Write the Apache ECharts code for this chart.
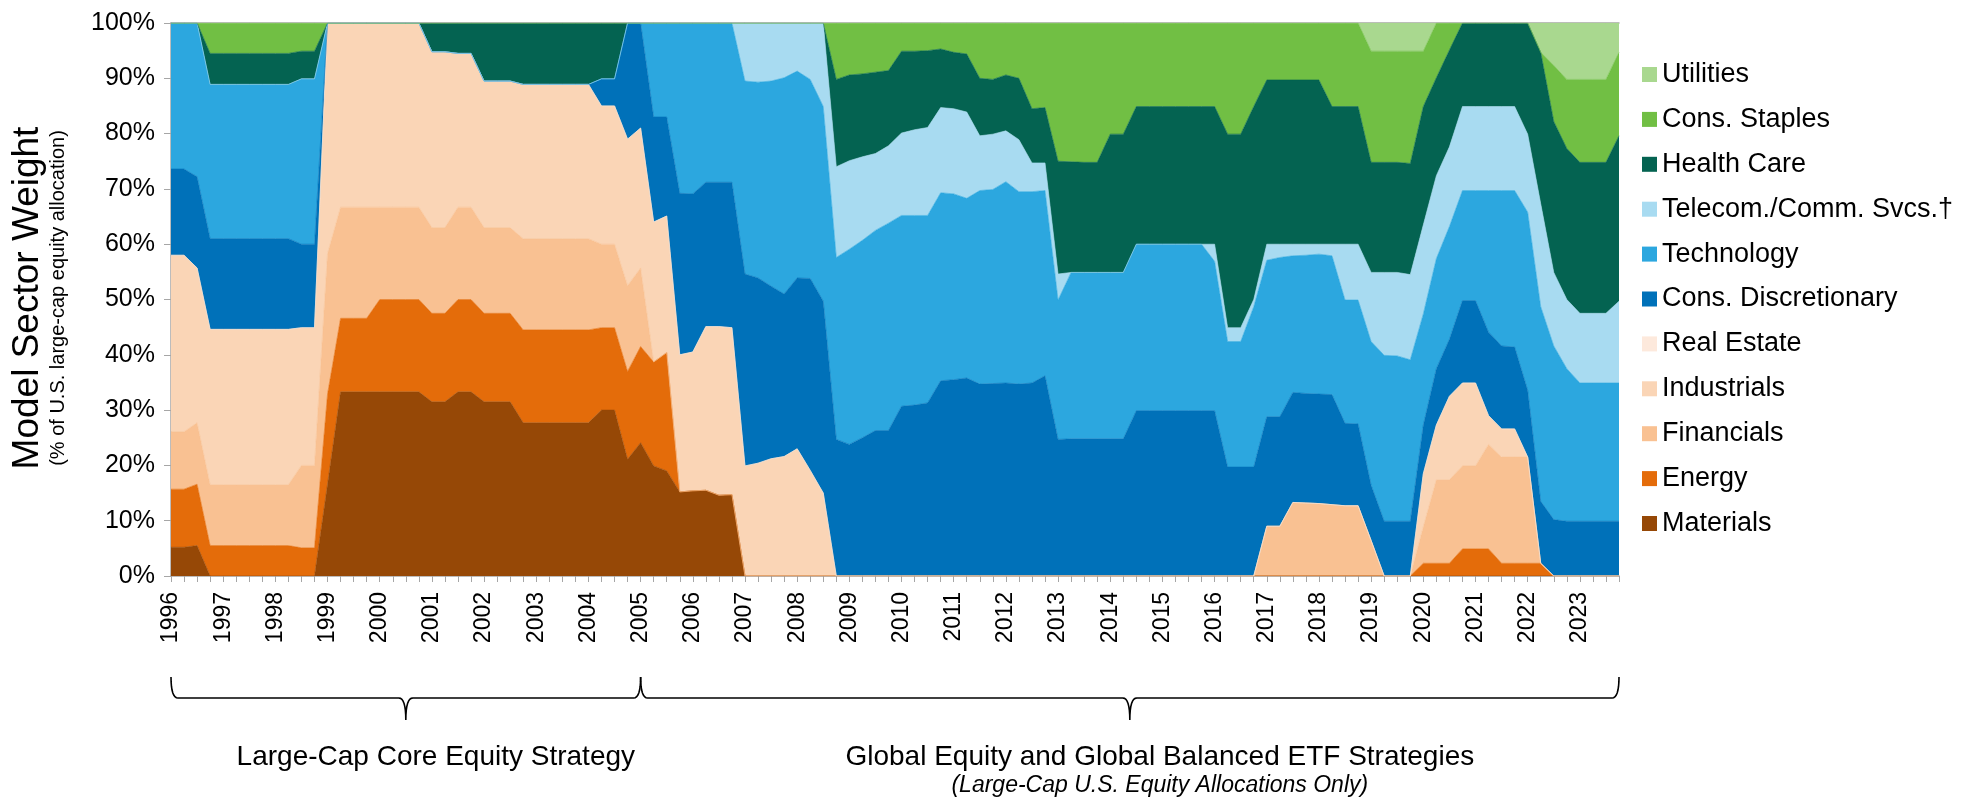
<!DOCTYPE html>
<html>
<head>
<meta charset="utf-8">
<script src="https://cdn.jsdelivr.net/npm/echarts@6/dist/echarts.min.js"></script>
<style>
  html, body { margin: 0; padding: 0; background: #fff; }
  #chart { width: 1986px; height: 799px; }
</style>
</head>
<body>
<div id="chart"></div>
<script>
// quarterly model weights, 1996 Q1 .. 2023 Q4 (each line = 4 years x 4 quarters)
let years = [];
for (let y = 1996; y <= 2023; y++) years.push(String(y));
let quarters = ['Q1', 'Q2', 'Q3', 'Q4'];
let categories = [];
years.forEach(function (y) { quarters.forEach(function (q) { categories.push(y + ' ' + q); }); });

let yTicks = [0, 10, 20, 30, 40, 50, 60, 70, 80, 90, 100];

let materials = [
    5.2, 5.2, 5.5, 0, 0, 0, 0, 0, 0, 0, 0, 0, 16.6, 33.3, 33.3, 33.3,
    33.3, 33.3, 33.3, 33.3, 31.5, 31.5, 33.3, 33.3, 31.5, 31.5, 31.5, 27.7, 27.7, 27.7, 27.7, 27.7,
    27.7, 30.0, 30.0, 21.1, 24.1, 19.9, 19.0, 15.2, 15.4, 15.5, 14.6, 14.7, 0, 0, 0, 0,
    0, 0, 0, 0, 0, 0, 0, 0, 0, 0, 0, 0, 0, 0, 0, 0,
    0, 0, 0, 0, 0, 0, 0, 0, 0, 0, 0, 0, 0, 0, 0, 0,
    0, 0, 0, 0, 0, 0, 0, 0, 0, 0, 0, 0, 0, 0, 0, 0,
    0, 0, 0, 0, 0, 0, 0, 0, 0, 0, 0, 0, 0, 0, 0, 0
];
let energy = [
    10.5, 10.5, 11.1, 5.5, 5.5, 5.5, 5.5, 5.5, 5.5, 5.5, 5.1, 5.1, 16.3, 13.3, 13.3, 13.3,
    16.7, 16.7, 16.7, 16.7, 16.0, 16.0, 16.7, 16.7, 16.0, 16.0, 16.0, 16.8, 16.8, 16.8, 16.8, 16.8,
    16.8, 14.9, 14.9, 15.9, 17.4, 18.8, 21.4, 0, 0, 0, 0, 0, 0, 0, 0, 0,
    0, 0, 0, 0, 0, 0, 0, 0, 0, 0, 0, 0, 0, 0, 0, 0,
    0, 0, 0, 0, 0, 0, 0, 0, 0, 0, 0, 0, 0, 0, 0, 0,
    0, 0, 0, 0, 0, 0, 0, 0, 0, 0, 0, 0, 0, 0, 0, 0,
    2.3, 2.3, 2.3, 4.9, 4.9, 4.9, 2.3, 2.3, 2.3, 2.3, 0, 0, 0, 0, 0, 0
];
let financials = [
    10.4, 10.4, 11.1, 11.0, 11.0, 11.0, 11.0, 11.0, 11.0, 11.0, 14.9, 14.9, 25.4, 20.1, 20.1, 20.1,
    16.7, 16.7, 16.7, 16.7, 15.5, 15.5, 16.7, 16.7, 15.5, 15.5, 15.5, 16.5, 16.5, 16.5, 16.5, 16.5,
    16.5, 15.1, 15.1, 15.5, 14.2, 0, 0, 0, 0, 0, 0, 0, 0, 0, 0, 0,
    0, 0, 0, 0, 0, 0, 0, 0, 0, 0, 0, 0, 0, 0, 0, 0,
    0, 0, 0, 0, 0, 0, 0, 0, 0, 0, 0, 0, 0, 0, 0, 0,
    0, 0, 0, 0, 9.0, 9.0, 13.3, 13.2, 13.1, 12.9, 12.7, 12.7, 6.4, 0, 0, 0,
    6.6, 15.1, 15.1, 15.0, 15.0, 18.9, 19.2, 19.2, 19.2, 0, 0, 0, 0, 0, 0, 0
];
let industrials = [
    31.9, 31.9, 28.0, 28.1, 28.1, 28.1, 28.1, 28.1, 28.1, 28.1, 24.9, 24.9, 41.7, 33.3, 33.3, 33.3,
    33.3, 33.3, 33.3, 33.3, 31.8, 31.8, 27.8, 27.8, 26.5, 26.5, 26.5, 27.9, 27.9, 27.9, 27.9, 27.9,
    27.9, 25.0, 25.0, 26.5, 25.3, 25.3, 24.7, 24.8, 25.1, 29.6, 30.5, 30.2, 19.9, 20.4, 21.2, 21.6,
    23.0, 19.1, 15.0, 0, 0, 0, 0, 0, 0, 0, 0, 0, 0, 0, 0, 0,
    0, 0, 0, 0, 0, 0, 0, 0, 0, 0, 0, 0, 0, 0, 0, 0,
    0, 0, 0, 0, 0, 0, 0, 0, 0, 0, 0, 0, 0, 0, 0, 0,
    9.6, 9.9, 15.1, 15.0, 15.0, 5.2, 5.1, 5.1, 0, 0, 0, 0, 0, 0, 0, 0
];
let realEstate = categories.map(function () { return 0; });
let consDisc = [
    15.6, 15.6, 16.5, 16.4, 16.4, 16.4, 16.4, 16.4, 16.4, 16.4, 15.1, 15.1, 0, 0, 0, 0,
    0, 0, 0, 0, 0, 0, 0, 0, 0, 0, 0, 0, 0, 0, 0, 0,
    0, 4.9, 4.9, 21.0, 19.0, 19.0, 17.9, 29.2, 28.6, 26.1, 26.1, 26.3, 34.7, 33.5, 31.2, 29.4,
    30.9, 34.7, 34.7, 24.7, 23.8, 25.0, 26.3, 26.3, 30.7, 30.9, 31.3, 35.3, 35.5, 35.8, 34.7, 34.8,
    34.9, 34.7, 34.9, 36.2, 24.7, 24.8, 24.8, 24.8, 24.8, 24.8, 29.9, 29.9, 29.9, 29.9, 29.9, 29.9,
    29.9, 19.7, 19.7, 19.7, 19.8, 19.8, 19.9, 19.8, 19.8, 19.9, 14.9, 14.8, 10.0, 9.9, 9.9, 9.9,
    8.8, 10.2, 10.3, 14.9, 14.9, 15.1, 15.0, 14.8, 12.1, 11.2, 10.2, 9.9, 9.9, 9.9, 9.9, 9.9
];
let technology = [
    26.4, 26.4, 27.8, 27.9, 27.9, 27.9, 27.9, 27.9, 27.9, 27.9, 29.9, 29.9, 0, 0, 0, 0,
    0, 0, 0, 0, 0, 0, 0, 0, 0, 0, 0, 0, 0, 0, 0, 0,
    0, 0, 0, 0, 0, 17.0, 17.0, 30.8, 30.9, 28.8, 28.8, 28.8, 34.9, 35.4, 37.1, 39.1,
    37.4, 36.0, 35.2, 32.9, 35.3, 35.7, 36.2, 37.5, 34.5, 34.3, 33.9, 34.0, 33.6, 32.5, 35.0, 35.1,
    36.4, 34.8, 34.6, 33.5, 25.2, 30.1, 30.1, 30.1, 30.1, 30.1, 30.1, 30.1, 30.1, 30.1, 30.1, 30.1,
    27.0, 22.7, 22.7, 29.0, 28.3, 28.8, 24.7, 25.0, 25.3, 25.1, 22.3, 22.4, 26.0, 30.0, 29.9, 29.2,
    20.1, 19.9, 20.4, 19.9, 19.9, 25.6, 28.1, 28.3, 32.2, 35.2, 31.4, 27.6, 25.0, 25.0, 25.0, 25.0
];
let telecom = [
    0, 0, 0, 0, 0, 0, 0, 0, 0, 0, 0, 0, 0, 0, 0, 0,
    0, 0, 0, 0, 0, 0, 0, 0, 0, 0, 0, 0, 0, 0, 0, 0,
    0, 0, 0, 0, 0, 0, 0, 0, 0, 0, 0, 0, 10.5, 10.7, 10.5, 9.9,
    8.7, 10.2, 15.1, 16.4, 16.0, 15.1, 13.9, 14.0, 14.9, 15.5, 15.9, 15.4, 15.4, 15.6, 9.9, 10.0,
    9.2, 9.4, 5.2, 5.0, 4.7, 0, 0, 0, 0, 0, 0, 0, 0, 0, 0, 0,
    3.1, 2.5, 2.5, 1.3, 2.9, 2.4, 2.1, 2.0, 1.8, 2.1, 10.1, 10.1, 12.5, 15.0, 15.1, 15.4,
    16.1, 15.0, 14.4, 15.2, 15.2, 15.2, 15.2, 15.2, 14.1, 18.6, 13.3, 12.5, 12.6, 12.6, 12.6, 14.8
];
let healthCare = [
    0, 0, 0, 5.6, 5.6, 5.6, 5.6, 5.6, 5.6, 5.6, 5.0, 5.0, 0, 0, 0, 0,
    0, 0, 0, 0, 5.2, 5.2, 5.5, 5.5, 10.5, 10.5, 10.5, 11.1, 11.1, 11.1, 11.1, 11.1,
    11.1, 10.1, 10.1, 0, 0, 0, 0, 0, 0, 0, 0, 0, 0, 0, 0, 0,
    0, 0, 0, 15.8, 15.5, 15.0, 14.7, 13.6, 14.8, 14.2, 13.9, 10.6, 10.2, 10.5, 10.4, 9.9,
    10.1, 11.1, 9.8, 10.0, 20.4, 20.0, 19.9, 19.9, 25.0, 25.0, 24.9, 24.9, 24.9, 24.9, 24.9, 24.9,
    24.9, 35.0, 35.0, 34.9, 29.7, 29.7, 29.7, 29.7, 29.7, 24.9, 24.9, 24.9, 19.9, 19.9, 19.9, 20.1,
    21.4, 17.7, 17.5, 15.1, 15.1, 15.1, 15.1, 15.1, 20.1, 27.4, 27.3, 27.3, 27.3, 27.3, 27.3, 29.9
];
let consStaples = [
    0, 0, 0, 5.5, 5.5, 5.5, 5.5, 5.5, 5.5, 5.5, 5.1, 5.1, 0, 0, 0, 0,
    0, 0, 0, 0, 0, 0, 0, 0, 0, 0, 0, 0, 0, 0, 0, 0,
    0, 0, 0, 0, 0, 0, 0, 0, 0, 0, 0, 0, 0, 0, 0, 0,
    0, 0, 0, 10.2, 9.4, 9.2, 8.9, 8.6, 5.1, 5.1, 5.0, 4.7, 5.3, 5.6, 10.0, 10.2,
    9.4, 10.0, 15.5, 15.3, 25.0, 25.1, 25.2, 25.2, 20.1, 20.1, 15.1, 15.1, 15.1, 15.1, 15.1, 15.1,
    15.1, 20.1, 20.1, 15.1, 10.3, 10.3, 10.3, 10.3, 10.3, 15.1, 15.1, 15.1, 20.1, 20.1, 20.1, 20.3,
    10.0, 9.9, 4.9, 0, 0, 0, 0, 0, 0, 0, 10.1, 12.5, 15.0, 15.0, 15.0, 15.1
];
let utilities = [
    0, 0, 0, 0, 0, 0, 0, 0, 0, 0, 0, 0, 0, 0, 0, 0,
    0, 0, 0, 0, 0, 0, 0, 0, 0, 0, 0, 0, 0, 0, 0, 0,
    0, 0, 0, 0, 0, 0, 0, 0, 0, 0, 0, 0, 0, 0, 0, 0,
    0, 0, 0, 0, 0, 0, 0, 0, 0, 0, 0, 0, 0, 0, 0, 0,
    0, 0, 0, 0, 0, 0, 0, 0, 0, 0, 0, 0, 0, 0, 0, 0,
    0, 0, 0, 0, 0, 0, 0, 0, 0, 0, 0, 0, 5.1, 5.1, 5.1, 5.1,
    5.1, 0, 0, 0, 0, 0, 0, 0, 0, 5.3, 7.7, 10.2, 10.2, 10.2, 10.2, 5.3
];

// bottom-up stacking order
let sectors = [
    { name: 'Materials', data: materials, color: '#964806' },
    { name: 'Energy', data: energy, color: '#e46c0a' },
    { name: 'Financials', data: financials, color: '#f9c192' },
    { name: 'Industrials', data: industrials, color: '#fad5b6' },
    { name: 'Real Estate', data: realEstate, color: '#fde9dc' },
    { name: 'Cons. Discretionary', data: consDisc, color: '#0071b9' },
    { name: 'Technology', data: technology, color: '#2ca7df' },
    { name: 'Telecom./Comm. Svcs.†', data: telecom, color: '#a8dbf1' },
    { name: 'Health Care', data: healthCare, color: '#046351' },
    { name: 'Cons. Staples', data: consStaples, color: '#71bf44' },
    { name: 'Utilities', data: utilities, color: '#a9d88f' }
];

let font = '"Liberation Sans", Arial, Helvetica, sans-serif';
let gray = '#a6a6a6';

let dom = document.getElementById('chart');
let chart = echarts.init(dom);

let option = {
    animation: false,
    textStyle: { fontFamily: font },
    grid: { left: 171, right: 367, top: 23, bottom: 223 },
    legend: {
        orient: 'vertical',
        left: 1637,
        top: 56,
        itemWidth: 15,
        itemHeight: 15,
        itemGap: 17.9,
        icon: 'rect',
        selectedMode: false,
        data: sectors.map(function (s) { return s.name; }).reverse(),
        textStyle: { fontSize: 27, lineHeight: 26, color: '#000', fontFamily: font }
    },
    xAxis: [
        {
            type: 'category',
            data: categories,
            boundaryGap: false,
            axisLine: { lineStyle: { color: gray, width: 1.5 } },
            axisTick: { interval: 0, length: 6, lineStyle: { color: gray } },
            axisLabel: {
                interval: 0,
                rotate: 90,
                margin: 16,
                fontSize: 23,
                color: '#000',
                fontFamily: font,
                formatter: function (v, i) { return i % 4 === 0 ? v.slice(0, 4) : ''; }
            }
        },
        {
            type: 'category',
            position: 'top',
            data: categories,
            boundaryGap: false,
            axisLine: { lineStyle: { color: gray, width: 1.5 } },
            axisTick: { show: false },
            axisLabel: { show: false }
        }
    ],
    yAxis: {
        type: 'value',
        min: yTicks[0],
        max: yTicks[yTicks.length - 1],
        interval: 10,
        axisLine: { show: true, lineStyle: { color: gray, width: 1.5 } },
        axisTick: { show: true, length: 7, lineStyle: { color: gray } },
        splitLine: { show: false },
        axisLabel: { formatter: '{value}%', fontSize: 25, margin: 16, color: '#000', fontFamily: font }
    },
    series: sectors.map(function (s) {
        return {
            name: s.name,
            type: 'line',
            stack: 'total',
            data: s.data,
            symbol: 'none',
            showSymbol: false,
            color: s.color,
            lineStyle: { width: 0.6, color: s.color },
            areaStyle: { color: s.color, opacity: 1 },
            emphasis: { disabled: true }
        };
    })
};

chart.setOption(option);

// braces and strategy labels under the axis
function px(i) { return chart.convertToPixel({ xAxisIndex: 0 }, categories[i]); }
function quad(p0, p1, p2, pts) {
    for (let k = 0; k <= 8; k++) {
        let t = k / 8, u = 1 - t;
        pts.push([u * u * p0[0] + 2 * u * t * p1[0] + t * t * p2[0],
                  u * u * p0[1] + 2 * u * t * p1[1] + t * t * p2[1]]);
    }
}
function brace(x1, x2, yTop, yLine, yTip) {
    let xm = (x1 + x2) / 2, r = 7, pts = [];
    quad([x1, yTop], [x1, yLine], [x1 + r, yLine], pts);
    quad([xm - r, yLine], [xm, yLine], [xm, yTip], pts);
    quad([xm, yTip], [xm, yLine], [xm + r, yLine], pts);
    quad([x2 - r, yLine], [x2, yLine], [x2, yTop], pts);
    return pts;
}
let xStart = px(0), xSplit = px(36), xEnd = px(categories.length - 1);
let braceStyle = { stroke: '#000', lineWidth: 1.6, fill: null };

chart.setOption({
    graphic: [
        { type: 'polyline', shape: { points: brace(xStart, xSplit, 677, 698, 720) }, style: braceStyle },
        { type: 'polyline', shape: { points: brace(xSplit, xEnd, 677, 698, 720) }, style: braceStyle },
        {
            type: 'text', x: (xStart + xSplit) / 2 + 30, y: 757,
            style: { text: 'Large-Cap Core Equity Strategy', fontSize: 28, fontFamily: font, fill: '#000', align: 'center', verticalAlign: 'middle' }
        },
        {
            type: 'text', x: (xSplit + xEnd) / 2 + 30, y: 757,
            style: { text: 'Global Equity and Global Balanced ETF Strategies', fontSize: 28, fontFamily: font, fill: '#000', align: 'center', verticalAlign: 'middle' }
        },
        {
            type: 'text', x: (xSplit + xEnd) / 2 + 30, y: 786,
            style: { text: '(Large-Cap U.S. Equity Allocations Only)', fontSize: 23, fontStyle: 'italic', fontFamily: font, fill: '#000', align: 'center', verticalAlign: 'middle' }
        },
        {
            type: 'text', x: 28, y: 298, rotation: Math.PI / 2,
            style: { text: 'Model Sector Weight', fontSize: 37, fontFamily: font, fill: '#000', align: 'center', verticalAlign: 'middle' }
        },
        {
            type: 'text', x: 58, y: 298, rotation: Math.PI / 2,
            style: { text: '(% of U.S. large-cap equity allocation)', fontSize: 20, fontFamily: font, fill: '#000', align: 'center', verticalAlign: 'middle' }
        }
    ]
});
</script>
</body>
</html>
